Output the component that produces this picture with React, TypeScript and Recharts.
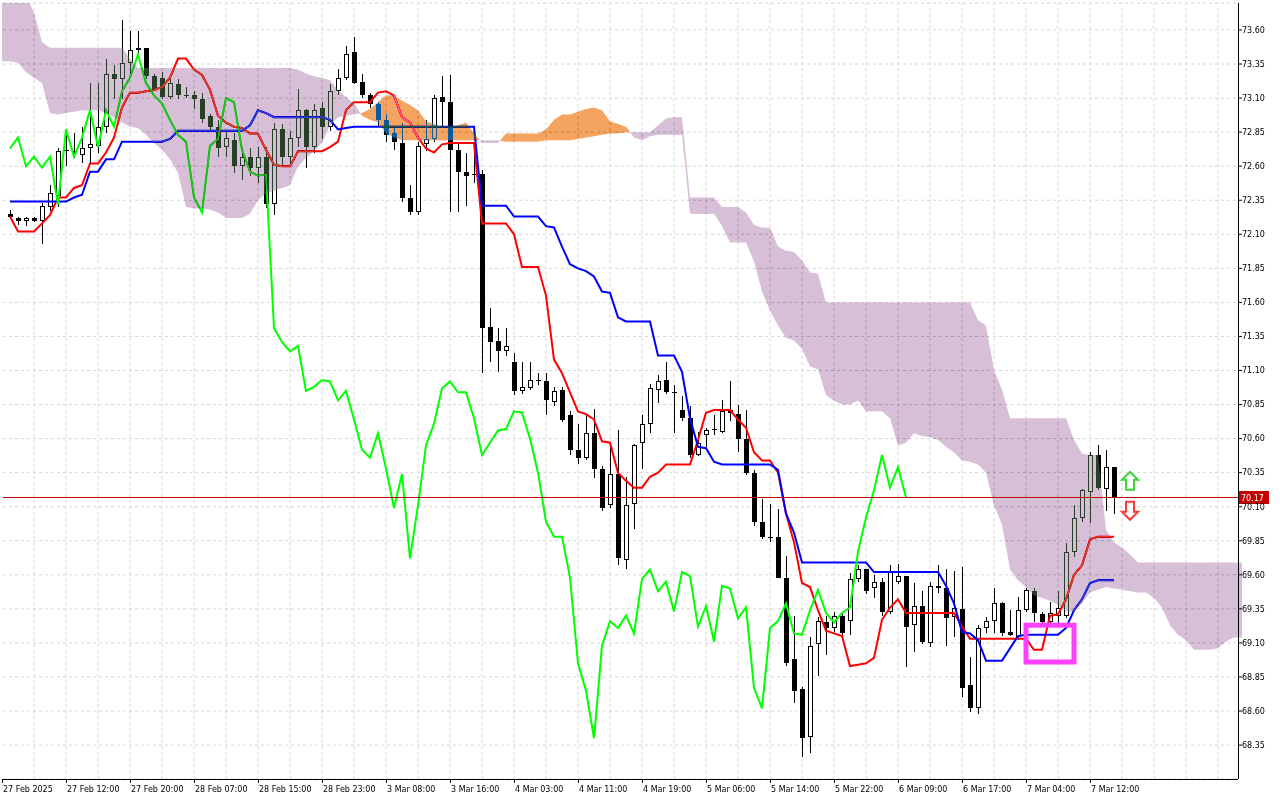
import React from 'react';
import {
  ComposedChart, Bar, Line, XAxis, YAxis, CartesianGrid,
  ReferenceLine, ReferenceDot, ReferenceArea,
} from 'recharts';

// H1 candles, bar 0 = 27 Feb 05:00
const opens = [
  72.25, 72.22, 72.20, 72.22, 72.20, 72.30, 72.38, 72.71, 72.71, 72.68,
  72.73, 72.75, 72.89, 73.28, 73.24, 73.36, 73.45, 73.47, 73.26, 73.25,
  73.11, 73.20, 73.12, 73.12, 73.09, 72.97, 72.89, 72.74, 72.79, 72.60,
  72.67, 72.59, 72.67, 72.32, 72.87, 72.67, 72.81, 73.01, 72.74, 73.03,
  72.89, 73.15, 73.25, 73.44, 73.22, 73.12, 73.06, 72.94, 72.84, 72.77,
  72.37, 72.26, 72.76, 72.80, 73.11, 73.07, 72.72, 72.56, 72.54, 72.54,
  71.42, 71.32, 71.24, 71.16, 70.95, 70.97, 71.03, 71.02, 70.87, 70.96,
  70.77, 70.52, 70.46, 70.64, 70.38, 70.11, 70.34, 69.71, 70.12, 70.57,
  70.71, 70.96, 71.03, 70.94, 70.81, 70.75, 70.48, 70.63, 70.66, 70.65,
  70.81, 70.78, 70.60, 70.35, 69.99, 69.88, 69.88, 69.58, 68.98, 68.76,
  68.41, 69.09, 69.25, 69.21, 69.30, 69.26, 69.57, 69.64, 69.50, 69.55,
  69.33, 69.55, 69.59, 69.23, 69.37, 69.10, 69.52, 69.50, 69.29, 69.35,
  68.79, 68.62, 69.21, 69.26, 69.39, 69.18, 69.14, 69.34, 69.48, 69.31,
  69.25, 69.30, 69.30, 69.77, 70.02, 70.21, 70.48, 70.23, 70.39,
];
const highs = [
  72.28, 72.23, 72.23, 72.23, 72.33, 72.46, 72.73, 72.87, 72.84, 72.89,
  73.21, 73.21, 73.39, 73.34, 73.67, 73.59, 73.59, 73.47, 73.28, 73.29,
  73.24, 73.24, 73.18, 73.15, 73.14, 72.98, 72.94, 72.85, 72.84, 72.73,
  72.73, 72.74, 72.74, 72.92, 72.91, 72.86, 73.17, 73.02, 73.06, 73.07,
  73.20, 73.31, 73.48, 73.55, 73.28, 73.14, 73.07, 72.98, 72.89, 72.92,
  72.46, 72.78, 72.94, 73.12, 73.26, 73.27, 72.78, 72.70, 72.70, 72.57,
  71.56, 71.41, 71.41, 71.23, 71.16, 71.16, 71.08, 71.08, 70.98, 70.98,
  70.80, 70.71, 70.77, 70.82, 70.40, 70.54, 70.66, 70.32, 70.56, 70.77,
  71.00, 71.07, 71.16, 70.99, 70.91, 70.84, 70.65, 70.68, 70.77, 70.88,
  71.02, 70.85, 70.81, 70.37, 70.16, 70.12, 70.08, 69.74, 69.30, 68.78,
  69.14, 69.29, 69.30, 69.33, 69.31, 69.61, 69.67, 69.64, 69.60, 69.58,
  69.67, 69.68, 69.59, 69.54, 69.48, 69.55, 69.67, 69.64, 69.63, 69.66,
  69.00, 69.23, 69.29, 69.50, 69.40, 69.34, 69.44, 69.50, 69.50, 69.33,
  69.40, 69.48, 69.83, 70.11, 70.23, 70.50, 70.55, 70.52, 70.39,
];
const lows = [
  72.21, 72.17, 72.16, 72.19, 72.03, 72.27, 72.30, 72.60, 72.66, 72.62,
  72.62, 72.70, 72.84, 73.09, 73.09, 73.25, 73.42, 73.24, 73.16, 73.09,
  73.09, 73.09, 73.10, 73.02, 72.92, 72.86, 72.67, 72.67, 72.55, 72.50,
  72.53, 72.48, 72.29, 72.24, 72.61, 72.60, 72.74, 72.59, 72.70, 72.80,
  72.86, 73.12, 73.23, 73.20, 73.10, 73.03, 72.89, 72.78, 72.72, 72.34,
  72.24, 72.24, 72.71, 72.78, 72.88, 72.26, 72.26, 72.31, 72.48, 71.08,
  71.16, 71.09, 71.21, 70.92, 70.93, 70.96, 70.99, 70.77, 70.84, 70.72,
  70.48, 70.41, 70.44, 70.31, 70.07, 70.09, 69.67, 69.64, 69.94, 70.38,
  70.64, 70.86, 70.93, 70.64, 70.73, 70.46, 70.47, 70.54, 70.63, 70.64,
  70.73, 70.50, 70.33, 69.96, 69.86, 69.84, 69.58, 68.93, 68.66, 68.26,
  68.29, 68.86, 69.01, 69.18, 69.15, 69.16, 69.55, 69.46, 69.43, 69.30,
  69.31, 69.53, 68.92, 69.03, 69.09, 69.07, 69.47, 69.08, 69.14, 68.70,
  68.59, 68.58, 69.17, 69.17, 69.15, 69.15, 69.12, 69.33, 69.25, 69.24,
  69.23, 69.24, 69.28, 69.73, 69.99, 69.98, 70.22, 70.07, 70.05,
];
const closes = [
  72.23, 72.20, 72.22, 72.20, 72.31, 72.40, 72.71, 72.72, 72.70, 72.73,
  72.76, 72.89, 73.28, 73.24, 73.36, 73.45, 73.47, 73.26, 73.17, 73.11,
  73.21, 73.12, 73.12, 73.09, 72.95, 72.89, 72.73, 72.81, 72.60, 72.67,
  72.59, 72.67, 72.32, 72.87, 72.67, 72.81, 73.01, 72.74, 73.01, 72.89,
  73.15, 73.25, 73.42, 73.21, 73.12, 73.06, 72.94, 72.83, 72.78, 72.37,
  72.26, 72.75, 72.80, 73.10, 73.07, 72.72, 72.56, 72.53, 72.54, 71.41,
  71.31, 71.24, 71.28, 70.95, 70.98, 71.03, 71.02, 70.88, 70.95, 70.74,
  70.52, 70.46, 70.64, 70.38, 70.09, 70.34, 69.72, 70.11, 70.55, 70.71,
  70.97, 71.02, 70.94, 70.94, 70.75, 70.48, 70.57, 70.66, 70.67, 70.80,
  70.79, 70.60, 70.35, 69.99, 69.88, 69.88, 69.58, 68.95, 68.75, 68.40,
  69.08, 69.26, 69.21, 69.30, 69.17, 69.57, 69.64, 69.48, 69.55, 69.33,
  69.62, 69.59, 69.22, 69.37, 69.11, 69.52, 69.50, 69.28, 69.36, 68.77,
  68.62, 69.21, 69.26, 69.39, 69.17, 69.16, 69.34, 69.49, 69.32, 69.25,
  69.32, 69.36, 69.77, 70.02, 70.22, 70.48, 70.24, 70.39, 70.17,
];

// Ichimoku lines
const tenkan = [
  72.23, 72.12, 72.12, 72.12, 72.18, 72.24, 72.37, 72.37, 72.44, 72.46,
  72.62, 72.62, 72.70, 72.81, 73.03, 73.14, 73.14, 73.15, 73.16, 73.18,
  73.25, 73.39, 73.39, 73.31, 73.27, 73.16, 72.97, 72.92, 72.89, 72.88,
  72.84, 72.84, 72.72, 72.61, 72.60, 72.60, 72.71, 72.71, 72.71, 72.71,
  72.74, 72.78, 73.01, 73.07, 73.07, 73.07, 73.14, 73.15, 73.12, 72.96,
  72.92, 72.81, 72.73, 72.70, 72.76, 72.77, 72.77, 72.77, 72.77, 72.18,
  72.18, 72.18, 72.18, 72.10, 71.86, 71.86, 71.86, 71.65, 71.18, 71.08,
  70.94, 70.80, 70.78, 70.74, 70.58, 70.57, 70.35, 70.29, 70.24, 70.24,
  70.32, 70.35, 70.41, 70.41, 70.41, 70.41, 70.59, 70.79, 70.81, 70.81,
  70.81, 70.74, 70.68, 70.50, 70.44, 70.44, 70.35, 70.05, 69.84, 69.54,
  69.51, 69.34, 69.19, 69.17, 69.15, 68.93, 68.94, 68.95, 68.99, 69.27,
  69.36, 69.42, 69.32, 69.32, 69.32, 69.32, 69.32, 69.32, 69.32, 69.22,
  69.13, 69.13, 69.13, 69.13, 69.13, 69.13, 69.13, 69.13, 69.05, 69.05,
  69.30, 69.31, 69.42, 69.60, 69.67, 69.86, 69.88, 69.88, 69.88,
];
const kijun = [
  72.34, 72.34, 72.34, 72.34, 72.34, 72.34, 72.34, 72.34, 72.37, 72.39,
  72.56, 72.56, 72.65, 72.65, 72.78, 72.78, 72.78, 72.78, 72.78, 72.78,
  72.80, 72.86, 72.86, 72.86, 72.86, 72.86, 72.86, 72.86, 72.86, 72.86,
  72.90, 73.01, 72.99, 72.96, 72.96, 72.96, 72.96, 72.96, 72.96, 72.96,
  72.94, 72.87, 72.88, 72.89, 72.89, 72.89, 72.89, 72.89, 72.89, 72.89,
  72.89, 72.89, 72.89, 72.89, 72.89, 72.89, 72.89, 72.89, 72.89, 72.31,
  72.31, 72.31, 72.31, 72.23, 72.23, 72.23, 72.23, 72.16, 72.15, 72.01,
  71.88, 71.85, 71.83, 71.79, 71.68, 71.67, 71.49, 71.46, 71.46, 71.46,
  71.46, 71.21, 71.21, 71.21, 71.09, 70.75, 70.54, 70.53, 70.43, 70.41,
  70.41, 70.41, 70.41, 70.41, 70.41, 70.41, 70.37, 70.05, 69.91, 69.69,
  69.69, 69.69, 69.69, 69.69, 69.69, 69.69, 69.69, 69.69, 69.62, 69.62,
  69.62, 69.62, 69.62, 69.62, 69.62, 69.62, 69.62, 69.52, 69.39, 69.18,
  69.17, 69.12, 68.97, 68.97, 68.97, 69.06, 69.15, 69.16, 69.16, 69.16,
  69.16, 69.16, 69.21, 69.34, 69.42, 69.54, 69.56, 69.56, 69.56,
];
// lagging span, plotted 26 bars back
const chikou = [
  72.73, 72.81, 72.60, 72.67, 72.59, 72.67, 72.32, 72.87, 72.67, 72.81,
  73.01, 72.74, 73.01, 72.89, 73.15, 73.25, 73.42, 73.21, 73.12, 73.06,
  72.94, 72.83, 72.78, 72.37, 72.26, 72.75, 72.80, 73.10, 73.07, 72.72,
  72.56, 72.53, 72.54, 71.41, 71.31, 71.24, 71.28, 70.95, 70.98, 71.03,
  71.02, 70.88, 70.95, 70.74, 70.52, 70.46, 70.64, 70.38, 70.09, 70.34,
  69.72, 70.11, 70.55, 70.71, 70.97, 71.02, 70.94, 70.94, 70.75, 70.48,
  70.57, 70.66, 70.67, 70.80, 70.79, 70.60, 70.35, 69.99, 69.88, 69.88,
  69.58, 68.95, 68.75, 68.40, 69.08, 69.26, 69.21, 69.30, 69.17, 69.57,
  69.64, 69.48, 69.55, 69.33, 69.62, 69.59, 69.22, 69.37, 69.11, 69.52,
  69.50, 69.28, 69.36, 68.77, 68.62, 69.21, 69.26, 69.39, 69.17, 69.16,
  69.34, 69.49, 69.32, 69.25, 69.32, 69.36, 69.77, 70.02, 70.22, 70.48,
  70.24, 70.39, 70.17,
];
// cloud edges, run 26 bars ahead of price
const spanA = [
  73.37, 73.36, 73.29, 73.25, 73.21, 72.99, 72.98, 72.99, 73.00, 73.01,
  73.01, 73.01, 72.99, 72.96, 72.92, 72.89, 72.88, 72.83, 72.77, 72.72,
  72.65, 72.55, 72.30, 72.29, 72.29, 72.28, 72.26, 72.22, 72.22, 72.22,
  72.25, 72.35, 72.40, 72.42, 72.44, 72.46, 72.60, 72.66, 72.71, 72.77,
  72.90, 72.96, 72.97, 72.98, 72.99, 73.02, 73.07, 73.12, 73.12, 73.08,
  73.05, 73.01, 72.93, 72.91, 72.89, 72.89, 72.90, 72.92, 72.84, 72.77,
  72.77, 72.77, 72.84, 72.84, 72.84, 72.84, 72.84, 72.87, 72.94, 72.98,
  72.98, 73.00, 73.02, 73.03, 73.01, 72.93, 72.91, 72.89, 72.81, 72.79,
  72.82, 72.83, 72.83, 72.83, 72.83, 72.25, 72.25, 72.25, 72.25, 72.16,
  72.04, 72.04, 72.04, 71.90, 71.68, 71.54, 71.43, 71.34, 71.32, 71.26,
  71.13, 71.11, 70.92, 70.88, 70.85, 70.85, 70.88, 70.80, 70.80, 70.80,
  70.75, 70.55, 70.57, 70.64, 70.62, 70.61, 70.59, 70.54, 70.50, 70.44,
  70.43, 70.41, 70.35, 70.11, 69.97, 69.64, 69.56, 69.51, 69.45, 69.43,
  69.41, 69.38, 69.33, 69.33, 69.39, 69.47, 69.49, 69.51, 69.50, 69.49,
  69.48, 69.47, 69.47, 69.43, 69.36, 69.23, 69.16, 69.12, 69.05, 69.05,
  69.05, 69.06, 69.11, 69.14,
];
const spanB = [
  73.85, 73.85, 73.85, 73.73, 73.51, 73.47, 73.47, 73.47, 73.47, 73.47,
  73.47, 73.47, 73.47, 73.47, 73.47, 73.39, 73.32, 73.32, 73.32, 73.32,
  73.32, 73.32, 73.32, 73.32, 73.32, 73.32, 73.32, 73.32, 73.32, 73.32,
  73.32, 73.32, 73.32, 73.32, 73.32, 73.32, 73.31, 73.28, 73.26, 73.25,
  73.23, 73.16, 73.11, 73.06, 72.97, 72.94, 72.92, 72.84, 72.81, 72.79,
  72.79, 72.79, 72.79, 72.79, 72.79, 72.79, 72.79, 72.79, 72.79, 72.79,
  72.79, 72.79, 72.78, 72.78, 72.78, 72.78, 72.78, 72.79, 72.79, 72.79,
  72.79, 72.80, 72.81, 72.82, 72.83, 72.84, 72.84, 72.85, 72.85, 72.85,
  72.85, 72.90, 72.95, 72.96, 72.96, 72.37, 72.37, 72.37, 72.37, 72.30,
  72.30, 72.30, 72.26, 72.17, 72.15, 72.15, 72.01, 71.98, 71.97, 71.91,
  71.82, 71.81, 71.60, 71.60, 71.60, 71.60, 71.60, 71.60, 71.60, 71.60,
  71.60, 71.60, 71.60, 71.60, 71.60, 71.60, 71.60, 71.60, 71.60, 71.60,
  71.60, 71.47, 71.43, 71.10, 70.96, 70.75, 70.75, 70.75, 70.75, 70.75,
  70.75, 70.75, 70.75, 70.59, 70.49, 70.48, 70.48, 69.93, 69.84, 69.80,
  69.75, 69.69, 69.69, 69.69, 69.69, 69.69, 69.69, 69.69, 69.69, 69.69,
  69.69, 69.69, 69.69, 69.69,
];

const timeTicks = [0, 7, 15, 23, 31, 39, 47, 55, 63, 71, 79, 87, 95, 103, 111, 119, 127, 135];
const timeLabels = [
  '27 Feb 2025', '27 Feb 12:00', '27 Feb 20:00', '28 Feb 07:00', '28 Feb 15:00', '28 Feb 23:00',
  '3 Mar 08:00', '3 Mar 16:00', '4 Mar 03:00', '4 Mar 11:00', '4 Mar 19:00', '5 Mar 06:00',
  '5 Mar 14:00', '5 Mar 22:00', '6 Mar 09:00', '6 Mar 17:00', '7 Mar 04:00', '7 Mar 12:00',
];
const priceTicks = [
  68.35, 68.60, 68.85, 69.10, 69.35, 69.60, 69.85, 70.10, 70.35, 70.60, 70.85,
  71.10, 71.35, 71.60, 71.85, 72.10, 72.35, 72.60, 72.85, 73.10, 73.35, 73.60,
];
const lastPrice = 70.17;

// the terminal xors the cloud onto the chart; "difference" with these gives thistle / sandybrown on white
const PURPLE_MASK = '#274027';
const ORANGE_MASK = '#0b5b9f';
const GRID = '#d6d6d6';
const FONT = '"DejaVu Sans", Verdana, sans-serif';
const DOMAIN: [number, number] = [68.101, 73.798];

const rows = spanA.map((a, i) => {
  const b = spanB[i];
  const a2 = i + 1 < spanA.length ? spanA[i + 1] : a;
  const b2 = i + 1 < spanB.length ? spanB[i + 1] : b;
  return {
    i,
    o: opens[i],
    h: highs[i],
    l: lows[i],
    c: closes[i],
    range: i < closes.length ? [lows[i], highs[i]] : null,
    tenkan: i < tenkan.length ? tenkan[i] : null,
    kijun: i < kijun.length ? kijun[i] : null,
    chikou: i < chikou.length ? chikou[i] : null,
    a, b, a2, b2,
    // box spanning this bar and the next, so the cell can slope into the next bar
    cloud: [Math.min(a, b, a2, b2), Math.max(a, b, a2, b2)],
  };
});
const gridBars = rows.filter((r) => r.i % 4 === 3).map((r) => r.i);

function Candle(props: any) {
  const { x, y, width, height, payload } = props;
  if (!payload || payload.c == null || !isFinite(y)) return null;
  const { o, h, l, c } = payload;
  const top = Math.min(y, y + height);
  const span = Math.abs(height);
  const py = (p: number) => (h === l ? top : top + ((h - p) / (h - l)) * span);
  const cx = Math.floor(x + width / 2);
  const wTop = Math.round(top);
  const wBot = Math.round(top + span);
  const bTop = Math.round(py(Math.max(o, c)));
  const bBot = Math.max(bTop + 1, Math.round(py(Math.min(o, c))));
  const bull = c > o;
  return (
    <g shapeRendering="crispEdges">
      <rect x={cx} y={wTop} width={1} height={Math.max(1, wBot - wTop)} fill="#000" />
      <rect x={cx - 2} y={bTop} width={5} height={bBot - bTop} fill="#000" />
      {bull && bBot - bTop > 2 && (
        <rect x={cx - 1} y={bTop + 1} width={3} height={bBot - bTop - 2} fill="#fff" />
      )}
    </g>
  );
}

// one cloud cell runs from this bar's centre to the next one's, split where the spans cross
function CloudCell(props: any) {
  const { x, y, width, height, payload } = props;
  if (!payload || !isFinite(y)) return null;
  const top = Math.min(y, y + height);
  const span = Math.abs(height);
  const [lo, hi] = payload.cloud;
  const py = (p: number) => (hi === lo ? top : top + ((hi - p) / (hi - lo)) * span);
  const { a, b, a2, b2 } = payload;
  const x0 = x + width / 2;
  const x1 = x0 + width;
  const pieces: { xs: number; xe: number; as: number; bs: number; ae: number; be: number; up: boolean }[] = [];
  const d0 = a - b;
  const d1 = a2 - b2;
  if (payload.i === 0) pieces.push({ xs: x0 - width, xe: x0, as: a, bs: b, ae: a, be: b, up: d0 > 0 });
  if (d0 * d1 < 0) {
    const t = d0 / (d0 - d1);
    const xm = x0 + t * width;
    const m = a + t * (a2 - a);
    pieces.push({ xs: x0, xe: xm, as: a, bs: b, ae: m, be: m, up: d0 > 0 });
    pieces.push({ xs: xm, xe: x1, as: m, bs: m, ae: a2, be: b2, up: d1 > 0 });
  } else {
    pieces.push({ xs: x0, xe: x1, as: a, bs: b, ae: a2, be: b2, up: d0 + d1 > 0 });
  }
  return (
    <g>
      {pieces.map((p, k) => (
        <polygon
          key={k}
          points={`${p.xs},${py(p.as)} ${p.xe},${py(p.ae)} ${p.xe},${py(p.be)} ${p.xs},${py(p.bs)}`}
          fill={p.up ? ORANGE_MASK : PURPLE_MASK}
          style={{ mixBlendMode: 'difference' }}
        />
      ))}
    </g>
  );
}

function TimeTick(props: any) {
  const { x, y, payload } = props;
  const k = timeTicks.indexOf(payload.value);
  if (k < 0) return null;
  // first date belongs to the half-hidden bar left of bar 0
  const tx = Math.floor(k === 0 ? x - 8 : x);
  return (
    <g>
      <rect x={tx} y={y} width={1} height={4} fill="#000" shapeRendering="crispEdges" />
      <text x={tx + 1} y={y + 12.5} fontSize={8} fontFamily={FONT} fill="#000">
        {timeLabels[k]}
      </text>
    </g>
  );
}

function PriceTag(props: any) {
  const vb = props.viewBox;
  if (!vb) return null;
  const x0 = vb.x + vb.width;
  const y0 = Math.round(vb.y);
  return (
    <g>
      <rect x={x0} y={y0 - 6} width={31} height={13} fill="#c40000" />
      <text x={x0 + 3} y={y0 + 3.5} fontSize={8} fontFamily={FONT} fill="#fff">
        {lastPrice.toFixed(2)}
      </text>
    </g>
  );
}

function UpArrow({ cx, cy }: any) {
  const d = `M${cx},${cy - 9} L${cx + 8},${cy - 1} L${cx + 4},${cy - 1} L${cx + 4},${cy + 9} L${cx - 4},${cy + 9} L${cx - 4},${cy - 1} L${cx - 8},${cy - 1} Z`;
  return <path d={d} fill="#fff" stroke="#3cd43c" strokeWidth={2} />;
}

function DownArrow({ cx, cy }: any) {
  const d = `M${cx},${cy + 9} L${cx + 8},${cy + 1} L${cx + 4},${cy + 1} L${cx + 4},${cy - 9} L${cx - 4},${cy - 9} L${cx - 4},${cy + 1} L${cx - 8},${cy + 1} Z`;
  return <path d={d} fill="#fff" stroke="#ff3a3a" strokeWidth={2} />;
}

function Marker(props: any) {
  const { x, y, width, height } = props;
  // run from bar centre to bar centre, not band edge to band edge
  return (
    <rect x={x + 4} y={y} width={width - 8} height={height} fill="none" stroke="#ff40ff" strokeWidth={5} />
  );
}

export default function App() {
  return (
    <div style={{ width: 1280, height: 800, background: '#fff' }}>
      <style>{'body{margin:0;background:#fff}.cloud-layer{mix-blend-mode:difference}'}</style>
      <ComposedChart
        width={1280}
        height={800}
        data={rows}
        margin={{ top: 3, right: 0, bottom: 0, left: 3 }}
        barCategoryGap={0}
        barGap={0}
      >
        <CartesianGrid
          xAxisId="c"
          vertical={false}
          stroke={GRID}
          strokeDasharray="3 3"
          fill="#fff"
          fillOpacity={1}
        />
        {gridBars.map((b) => (
          <ReferenceLine key={b} xAxisId="c" x={b} stroke={GRID} strokeDasharray="3 3" zIndex={-50} />
        ))}

        <Bar xAxisId="c" dataKey="range" shape={<Candle />} isAnimationActive={false} />
        <Line xAxisId="c" dataKey="tenkan" stroke="#ff0000" strokeWidth={2} dot={false} activeDot={false} isAnimationActive={false} />
        <Line xAxisId="c" dataKey="kijun" stroke="#0000ff" strokeWidth={2} dot={false} activeDot={false} isAnimationActive={false} />
        <Line xAxisId="c" dataKey="chikou" stroke="#00ff00" strokeWidth={2} dot={false} activeDot={false} isAnimationActive={false} />

        <Bar
          xAxisId="k"
          dataKey="cloud"
          className="cloud-layer"
          shape={<CloudCell />}
          isAnimationActive={false}
          zIndex={450}
        />

        <ReferenceLine
          xAxisId="c"
          y={lastPrice}
          stroke="#c00000"
          shapeRendering="crispEdges"
          label={<PriceTag />}
          zIndex={460}
        />
        <ReferenceDot xAxisId="c" x={140} y={70.29} r={8} shape={(p: any) => <UpArrow cx={p.cx} cy={p.cy} />} zIndex={600} />
        <ReferenceDot xAxisId="c" x={140} y={70.07} r={8} shape={(p: any) => <DownArrow cx={p.cx} cy={p.cy} />} zIndex={600} />
        <ReferenceArea xAxisId="c" x1={127} x2={133} y1={68.96} y2={69.23} shape={<Marker />} zIndex={600} />

        <XAxis
          xAxisId="c"
          dataKey="i"
          type="category"
          ticks={timeTicks}
          interval={0}
          height={21}
          tickSize={0}
          tickMargin={0}
          tickLine={false}
          tick={<TimeTick />}
          axisLine={{ stroke: '#000', shapeRendering: 'crispEdges' }}
          padding={{ left: 3, right: 0 }}
        />
        <XAxis
          xAxisId="k"
          dataKey="i"
          type="category"
          orientation="top"
          height={0}
          tick={false}
          tickLine={false}
          axisLine={{ stroke: '#000', shapeRendering: 'crispEdges' }}
          padding={{ left: 3, right: 0 }}
        />
        <YAxis
          orientation="right"
          domain={DOMAIN}
          allowDataOverflow
          ticks={priceTicks}
          interval={0}
          width={42}
          tickSize={4}
          tickMargin={0}
          tickFormatter={(v: number) => v.toFixed(2)}
          tick={{ fontSize: 8, fontFamily: FONT, fill: '#000' }}
          tickLine={{ stroke: '#000' }}
          axisLine={{ stroke: '#000', shapeRendering: 'crispEdges' }}
        />
        <YAxis
          yAxisId="l"
          orientation="left"
          domain={DOMAIN}
          width={0}
          tick={false}
          tickLine={false}
          axisLine={{ stroke: '#000', shapeRendering: 'crispEdges' }}
        />
      </ComposedChart>
    </div>
  );
}
